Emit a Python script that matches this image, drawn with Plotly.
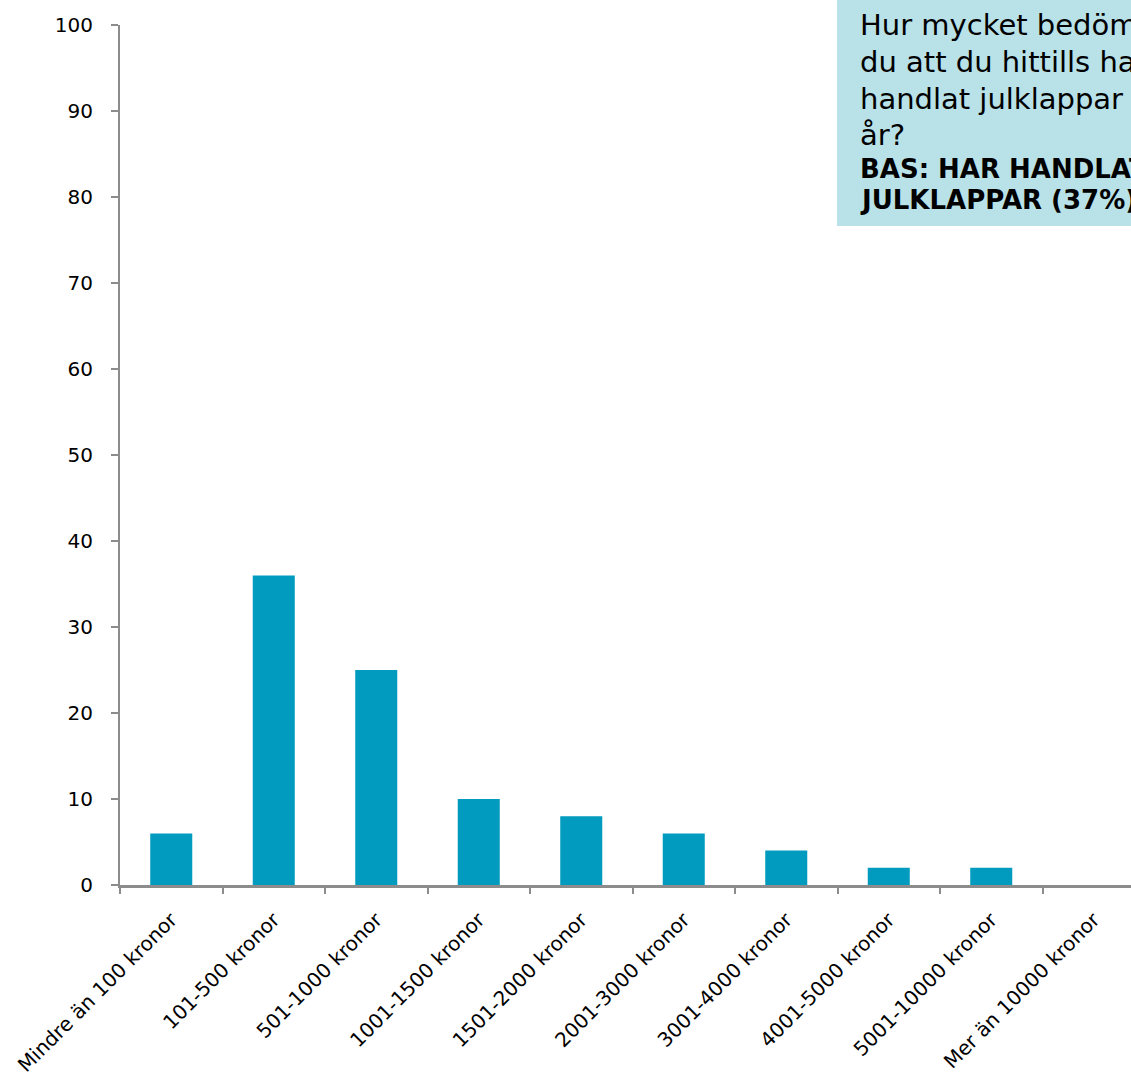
import plotly.graph_objects as go

categories = ["Mindre än 100 kronor", "101-500 kronor", "501-1000 kronor", "1001-1500 kronor",
              "1501-2000 kronor", "2001-3000 kronor", "3001-4000 kronor", "4001-5000 kronor",
              "5001-10000 kronor", "Mer än 10000 kronor"]
values = [6, 36, 25, 10, 8, 6, 4, 2, 2, 0]
y_ticks = [0, 10, 20, 30, 40, 50, 60, 70, 80, 90, 100]

question_lines = ["Hur mycket bedömer", "du att du hittills har", "handlat julklappar för i", "år?"]
base_lines = ["BAS: HAR HANDLAT", "JULKLAPPAR (37%)"]

W, H = 1131, 1078
L, T, B, R = 120, 25, 193, 0
pw = W - L - R
ph = H - T - B

BAR = "#009BBE"
AXIS = "#8C8C8C"
FONT = "DejaVu Sans, Verdana, sans-serif"

fig = go.Figure(go.Bar(x=categories, y=values, marker=dict(color=BAR, line=dict(width=0)), width=0.41))

cat_px = 102.5
fig.update_layout(
    width=W, height=H,
    margin=dict(l=L, r=R, t=T, b=B, pad=0),
    plot_bgcolor="white", paper_bgcolor="white",
    showlegend=False,
    font=dict(family=FONT, color="black"),
    xaxis=dict(
        type="category",
        range=[-0.5, -0.5 + pw / cat_px],
        showline=True, linecolor=AXIS, linewidth=3,
        ticks="outside", tickson="boundaries", ticklen=6, tickwidth=2, tickcolor=AXIS,
        tickangle=-45, tickfont=dict(size=20, family=FONT, color="black"),
        ticklabelstandoff=12,
        showgrid=False, zeroline=False,
    ),
    yaxis=dict(
        range=[0, 100], tickvals=y_ticks,
        showline=True, linecolor=AXIS, linewidth=2,
        ticks="outside", ticklen=7, tickwidth=2, tickcolor=AXIS,
        tickfont=dict(size=20, family=FONT, color="black"),
        ticklabelstandoff=14,
        showgrid=False, zeroline=False,
    ),
)

def px_x(p):
    return (p - L) / pw

def px_y(p):
    return (H - B - p) / ph

fig.add_shape(type="rect", xref="paper", yref="paper",
              x0=px_x(837), x1=px_x(1200), y0=px_y(226), y1=px_y(-5),
              fillcolor="#B9E1E8", line=dict(width=0), layer="below")

q_y = [25, 62, 99, 135]
for txt, yy in zip(question_lines, q_y):
    fig.add_annotation(x=px_x(858), y=px_y(yy), xref="paper", yref="paper",
                       xanchor="left", yanchor="middle", showarrow=False,
                       text=txt, font=dict(size=29, family=FONT, color="black"))
b_y = [169, 200]
for txt, yy in zip(base_lines, b_y):
    fig.add_annotation(x=px_x(858), y=px_y(yy), xref="paper", yref="paper",
                       xanchor="left", yanchor="middle", showarrow=False,
                       text="<b>" + txt + "</b>", font=dict(size=26, family=FONT, color="black"))

fig.write_html("out.html", config={"displayModeBar": False},
               post_script="document.body.style.margin='0';document.body.style.overflow='hidden';")
